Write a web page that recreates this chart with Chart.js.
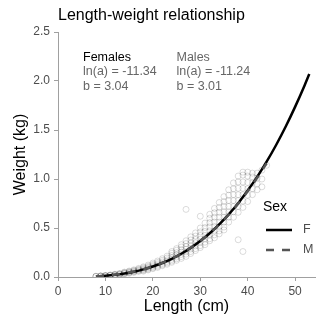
<!DOCTYPE html>
<html>
<head>
<meta charset="utf-8">
<script src="https://cdn.jsdelivr.net/npm/chart.js@4/dist/chart.umd.min.js"></script>
<style>
  html, body { margin: 0; padding: 0; background: #fff; }
  #wrap { width: 320px; height: 320px; }
</style>
</head>
<body>
<div id="wrap"><canvas id="myChart" width="320" height="320"></canvas></div>
<script>
// observed fish, one column per length (cm), weights in kg
const lengthCols = [8, 9, 10, 11, 12, 13, 14, 15, 16, 17, 18, 19, 20, 21, 22, 23, 24, 25, 26,
    27, 28, 29, 30, 31, 32, 33, 34, 35, 36, 37, 38, 39, 40, 41, 42, 43, 44];
const weightCols = [
    [0.005, 0.007, 0.008],
    [0.007, 0.009, 0.010, 0.012],
    [0.010, 0.012, 0.014, 0.016],
    [0.014, 0.016, 0.018, 0.021],
    [0.019, 0.022, 0.025, 0.028],
    [0.025, 0.028, 0.032, 0.036],
    [0.031, 0.035, 0.040, 0.045, 0.050],
    [0.038, 0.044, 0.049, 0.055, 0.061],
    [0.047, 0.053, 0.059, 0.066, 0.073],
    [0.057, 0.064, 0.071, 0.079, 0.088],
    [0.060, 0.068, 0.076, 0.084, 0.094, 0.104],
    [0.072, 0.080, 0.090, 0.099, 0.110, 0.122],
    [0.085, 0.093, 0.104, 0.115, 0.128, 0.142],
    [0.098, 0.108, 0.120, 0.133, 0.148, 0.163],
    [0.115, 0.125, 0.138, 0.153, 0.170, 0.187],
    [0.130, 0.143, 0.158, 0.175, 0.194, 0.213],
    [0.150, 0.163, 0.180, 0.199, 0.220, 0.242, 0.260],
    [0.170, 0.185, 0.204, 0.225, 0.248, 0.273, 0.290],
    [0.190, 0.208, 0.230, 0.253, 0.279, 0.306, 0.330],
    [0.210, 0.233, 0.257, 0.283, 0.311, 0.341, 0.370, 0.690],
    [0.240, 0.260, 0.286, 0.315, 0.346, 0.378, 0.410],
    [0.270, 0.290, 0.318, 0.349, 0.383, 0.418, 0.450],
    [0.300, 0.320, 0.352, 0.386, 0.423, 0.460, 0.500, 0.620],
    [0.330, 0.355, 0.390, 0.425, 0.465, 0.505, 0.550],
    [0.370, 0.390, 0.430, 0.470, 0.510, 0.555, 0.600, 0.640],
    [0.400, 0.430, 0.470, 0.515, 0.560, 0.610, 0.655, 0.700],
    [0.440, 0.470, 0.515, 0.560, 0.610, 0.660, 0.710, 0.760],
    [0.480, 0.510, 0.560, 0.610, 0.665, 0.720, 0.770, 0.820],
    [0.560, 0.610, 0.665, 0.720, 0.780, 0.835, 0.890],
    [0.610, 0.665, 0.720, 0.780, 0.840, 0.900, 0.960],
    [0.380, 0.660, 0.720, 0.780, 0.840, 0.905, 0.970, 1.030],
    [0.260, 0.710, 0.775, 0.840, 0.905, 0.970, 1.040, 1.070],
    [0.770, 0.835, 0.900, 0.965, 1.030, 1.070],
    [0.840, 0.900, 0.960, 1.020, 1.060],
    [0.890, 0.950, 1.010, 1.060],
    [0.920, 1.000, 1.090],
    [1.140]
];

// fitted curves
const femaleLengths = [8, 10, 12, 14, 16, 18, 20, 22, 24, 26, 28, 30, 32, 34, 36, 38, 40, 42, 44, 46, 48, 50, 52, 53];
const femaleWeights = [0.0066, 0.0130, 0.0226, 0.0362, 0.0543, 0.0777, 0.107, 0.143, 0.186, 0.2375, 0.2975, 0.367,
    0.4465, 0.537, 0.639, 0.753, 0.882, 1.022, 1.177, 1.347, 1.533, 1.736, 1.955, 2.072];
const maleLengths = [8, 10, 12, 14, 16, 18, 20, 22, 24, 26, 28, 30, 32, 34, 36, 38, 40, 42, 44];
const maleWeights = [0.0069, 0.0134, 0.0233, 0.0370, 0.0553, 0.0789, 0.1085, 0.1445, 0.1878, 0.2389, 0.2986, 0.3674,
    0.4463, 0.5359, 0.6365, 0.749, 0.874, 1.012, 1.161];

const xTicks = [0, 10, 20, 30, 40, 50];
const yTicks = [0, 0.5, 1, 1.5, 2, 2.5];

const femaleText = ['Females', 'ln(a) = -11.34', 'b = 3.04'];
const maleText = ['Males', 'ln(a) = -11.24', 'b = 3.01'];
const legendLabels = ['F', 'M'];

const FONT = '"Liberation Sans", Arial, sans-serif';

const points = [];
lengthCols.forEach((len, i) => {
    weightCols[i].forEach(w => points.push({ x: len, y: w }));
});
const femaleLine = femaleLengths.map((len, i) => ({ x: len, y: femaleWeights[i] }));
const maleLine = maleLengths.map((len, i) => ({ x: len, y: maleWeights[i] }));

const decor = {
    id: 'decor',
    afterDraw(chart) {
        const ctx = chart.ctx;
        ctx.save();
        // title
        ctx.fillStyle = '#000';
        ctx.font = '16px ' + FONT;
        ctx.textBaseline = 'alphabetic';
        ctx.textAlign = 'left';
        ctx.fillText('Length-weight relationship', 58, 20);

        // parameter notes
        ctx.font = '12.5px ' + FONT;
        const rows = [60.5, 75, 89.5];
        femaleText.forEach((t, i) => {
            ctx.fillStyle = i === 0 ? '#000' : '#666';
            ctx.fillText(t, 83, rows[i]);
        });
        maleText.forEach((t, i) => {
            ctx.fillStyle = '#666';
            ctx.fillText(t, 176.5, rows[i]);
        });

        // legend
        ctx.fillStyle = '#000';
        ctx.font = '14px ' + FONT;
        ctx.fillText('Sex', 263, 211);
        const ds = [chart.data.datasets[1], chart.data.datasets[0]];
        const ys = [230, 250];
        ds.forEach((d, i) => {
            ctx.beginPath();
            ctx.strokeStyle = d.borderColor;
            ctx.lineWidth = d.borderWidth;
            ctx.setLineDash(d.borderDash || []);
            ctx.moveTo(266, ys[i]);
            ctx.lineTo(292, ys[i]);
            ctx.stroke();
            ctx.setLineDash([]);
            ctx.fillStyle = '#4d4d4d';
            ctx.font = '12.5px ' + FONT;
            ctx.textBaseline = 'middle';
            ctx.fillText(legendLabels[i], 303, ys[i]);
            ctx.textBaseline = 'alphabetic';
        });
        ctx.restore();
    }
};

const ctx = document.getElementById('myChart').getContext('2d');
new Chart(ctx, {
    type: 'scatter',
    data: {
        datasets: [
            {
                label: 'M',
                data: maleLine,
                showLine: true,
                pointRadius: 0,
                borderColor: '#555',
                borderWidth: 2.5,
                borderDash: [8, 8],
                cubicInterpolationMode: 'monotone'
            },
            {
                label: 'F',
                data: femaleLine,
                showLine: true,
                pointRadius: 0,
                borderColor: '#000',
                borderWidth: 2.5,
                cubicInterpolationMode: 'monotone'
            },
            {
                label: 'obs',
                data: points,
                pointRadius: 3,
                pointStyle: 'circle',
                backgroundColor: 'rgba(0,0,0,0)',
                borderColor: 'rgba(0,0,0,0.14)',
                borderWidth: 1
            }
        ]
    },
    options: {
        responsive: false,
        animation: false,
        devicePixelRatio: 1,
        layout: { padding: { top: 32, right: 0, left: 0, bottom: 0 } },
        plugins: { legend: { display: false }, title: { display: false }, tooltip: { enabled: false } },
        scales: {
            x: {
                type: 'linear',
                min: 0,
                max: 54.2,
                afterBuildTicks: s => { s.ticks = xTicks.map(v => ({ value: v })); },
                afterFit: s => { s.height = 43; },
                grid: { drawOnChartArea: false, drawTicks: true, tickLength: 4, color: '#a0a0a0' },
                border: { display: true, color: '#a0a0a0' },
                ticks: { color: '#4d4d4d', font: { size: 12, family: FONT }, padding: 3, maxRotation: 0 },
                title: { display: true, text: 'Length (cm)', color: '#000', font: { size: 16, family: FONT }, padding: { top: 0, bottom: 4 } }
            },
            y: {
                type: 'linear',
                min: 0,
                max: 2.5,
                afterBuildTicks: s => { s.ticks = yTicks.map(v => ({ value: v })); },
                afterFit: s => { s.width = 58; },
                grid: { drawOnChartArea: false, drawTicks: true, tickLength: 4, color: '#a0a0a0' },
                border: { display: true, color: '#a0a0a0' },
                ticks: { color: '#4d4d4d', font: { size: 12, family: FONT }, padding: 4, callback: v => v.toFixed(1) },
                title: { display: true, text: 'Weight (kg)', color: '#000', font: { size: 16, family: FONT }, padding: { top: 11, bottom: 0 } }
            }
        }
    },
    plugins: [decor]
});
</script>
</body>
</html>
